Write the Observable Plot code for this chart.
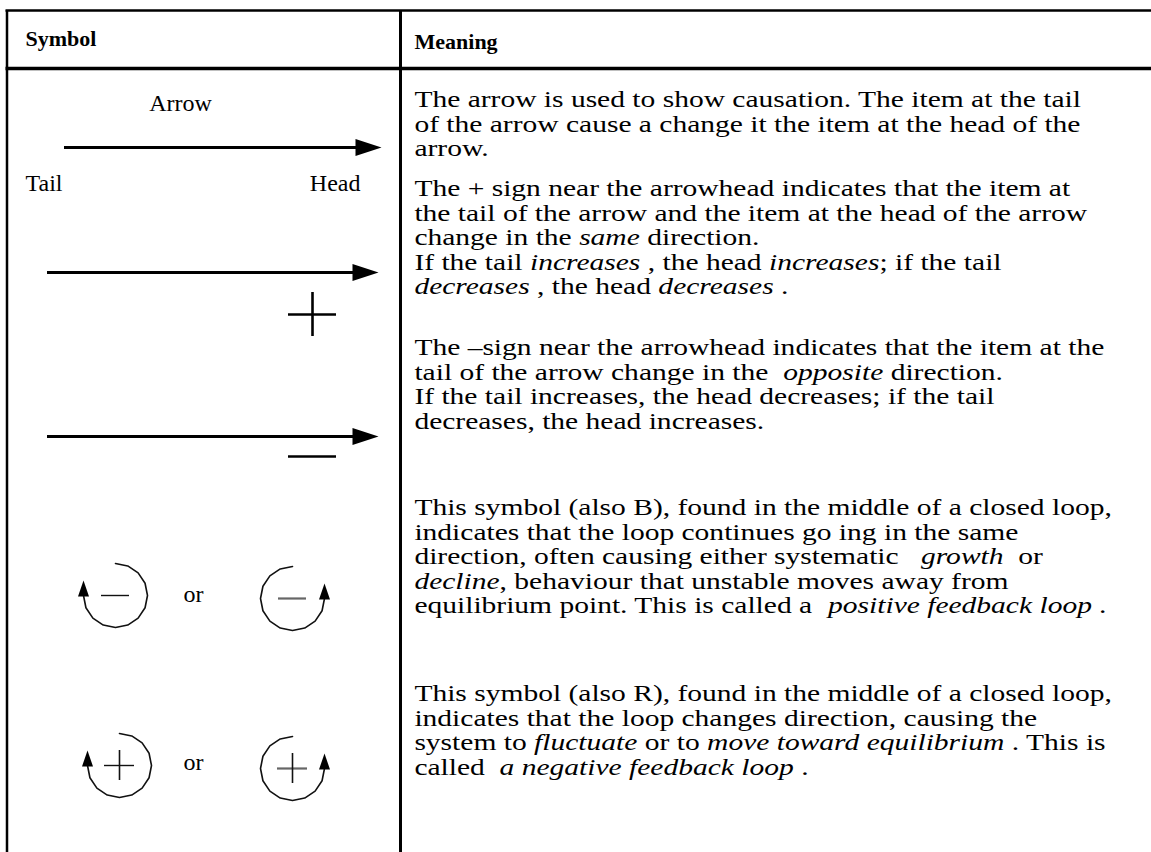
<!DOCTYPE html>
<html>
<head>
<meta charset="utf-8">
<script src="https://cdn.jsdelivr.net/npm/d3@7"></script>
<script src="https://cdn.jsdelivr.net/npm/@observablehq/plot@0.6"></script>
<style>
  html, body { margin: 0; padding: 0; background: #fff; }
</style>
</head>
<body>
<div id="chart"></div>
<script>
// ---------------- data ----------------
const headers = ["Symbol", "Meaning"];
const arrowLabels = ["Arrow", "Tail", "Head"];
const arrowSigns = ["", "+", "−"];      // sign drawn under each of the three arrows
const loopSigns = ["−", "+"];           // sign inside the loops of rows 4 and 5
const loopJoiner = "or";

// each paragraph = list of lines, each line = list of [text, italic]
const meaning = [
  [
    [["The arrow is used to show causation. The item at the tail", 0]],
    [["of the arrow cause a change it the item at the head of the", 0]],
    [["arrow.", 0]]
  ],
  [
    [["The + sign near the arrowhead indicates that the item at", 0]],
    [["the tail of the arrow and the item at the head of the arrow", 0]],
    [["change in the ", 0], ["same", 1], [" direction.", 0]],
    [["If the tail ", 0], ["increases", 1], [" , the head ", 0], ["increases", 1], ["; if the tail", 0]],
    [["decreases", 1], [" , the head ", 0], ["decreases", 1], [" .", 0]]
  ],
  [
    [["The –sign near the arrowhead indicates that the item at the", 0]],
    [["tail of the arrow change in the  ", 0], ["opposite", 1], [" direction.", 0]],
    [["If the tail increases, the head decreases; if the tail", 0]],
    [["decreases, the head increases.", 0]]
  ],
  [
    [["This symbol (also B), found in the middle of a closed loop,", 0]],
    [["indicates that the loop continues go ing in the same", 0]],
    [["direction, often causing either systematic   ", 0], ["growth", 1], ["  or", 0]],
    [["decline", 1], [", behaviour that unstable moves away from", 0]],
    [["equilibrium point. This is called a  ", 0], ["positive feedback loop", 1], [" .", 0]]
  ],
  [
    [["This symbol (also R), found in the middle of a closed loop,", 0]],
    [["indicates that the loop changes direction, causing the", 0]],
    [["system to ", 0], ["fluctuate", 1], [" or to ", 0], ["move toward equilibrium", 1], [" . This is", 0]],
    [["called  ", 0], ["a negative feedback loop", 1], [" .", 0]]
  ]
];

// ---------------- layout ----------------
const L = {
  W: 1151, H: 852,
  frameTop: 10, headBottom: 68, left: 6.5, divider: 400,
  headerY: [38, 41], headerX: [25, 414], headerSize: 22,
  textX: 414, fontSize: 24, lineH: 24.5, textStretch: 1.23,
  rowY: [99, 188, 347, 507, 693],
  arrowLabelPos: [[180, 103, "middle"], [25, 183, "start"], [360, 183, "end"]],
  arrows: [{y: 147, x1: 64, x2: 381}, {y: 272, x1: 47, x2: 378}, {y: 436, x1: 47, x2: 378}],
  signX: 312, signDy: [0, 42, 20], signHalfW: 24, signHalfH: 22,
  loops: [
    {l: [115, 595], r: [292, 598], signHalf: 14, orY: 594},
    {l: [119, 765], r: [292, 768], signHalf: 15, orY: 762}
  ],
  loopR: 32, orX: 193
};
const FONT = '"Liberation Serif", "Times New Roman", serif';

// ---------------- helpers ----------------
const ctx = document.createElement("canvas").getContext("2d");
function measure(t, italic, size = L.fontSize, bold = false) {
  ctx.font = `${italic ? "italic " : ""}${bold ? "bold " : ""}${size}px ${FONT}`;
  return ctx.measureText(t).width;
}

// text segments for the Meaning column (horizontally stretched like the source scan)
const segs = [];
meaning.forEach((para, r) => para.forEach((line, i) => {
  let x = L.textX;
  const y = L.rowY[r] + i * L.lineH;
  for (const [t, it] of line) {
    const lead = t.match(/^\s*/)[0];
    const trimmed = t.trim();
    if (trimmed) segs.push({x: x + measure(lead, it) * L.textStretch, y, t: trimmed, italic: !!it});
    x += measure(t, it) * L.textStretch;
  }
}));

const headerRows = headers.map((t, i) => ({t, x: L.headerX[i], y: L.headerY[i]}));
const labelRows = arrowLabels.map((t, i) => ({t, x: L.arrowLabelPos[i][0], y: L.arrowLabelPos[i][1], anchor: L.arrowLabelPos[i][2]}));

// arrow shafts & heads
const shafts = L.arrows.map(a => ({x1: a.x1, x2: a.x2 - 20, y: a.y}));
const bigHeads = L.arrows.map(a => ({x: a.x2, y: a.y}));

// signs under arrows (as rules)
const signH = [], signV = [];
arrowSigns.forEach((s, i) => {
  if (!s) return;
  const cy = L.arrows[i].y + L.signDy[i];
  signH.push({x1: L.signX - L.signHalfW, x2: L.signX + L.signHalfW, y: cy});
  if (s === "+") signV.push({x: L.signX, y1: cy - L.signHalfH, y2: cy + L.signHalfH});
});

// loops: polygonal arcs (16-gon like the source drawing)
const loopPts = [], loopHeads = [], loopH = [], loopV = [], orRows = [];
L.loops.forEach((lp, k) => {
  const sign = loopSigns[k];
  [["l", 1], ["r", -1]].forEach(([side, dir]) => {
    const [cx, cy] = lp[side];
    const id = `${k}${side}`;
    for (let a = 0; a <= 270.01; a += 22.5) {
      const th = (dir * a) * Math.PI / 180;
      loopPts.push({id, x: cx + L.loopR * Math.sin(th), y: cy - L.loopR * Math.cos(th)});
    }
    loopHeads.push({x: cx - dir * L.loopR, y: cy - 15});
    const col = side === "l" ? "#111" : "#666";
    loopH.push({x1: cx - lp.signHalf, x2: cx + lp.signHalf, y: cy, col, w: side === "l" ? 1.4 : 2.2});
    if (sign === "+") loopV.push({x: cx, y1: cy - lp.signHalf, y2: cy + lp.signHalf});
  });
  orRows.push({t: loopJoiner, x: L.orX, y: lp.orY});
});

// custom filled triangle (tip at origin, pointing up before rotation)
const tri = (len, hw) => ({
  draw(c) { c.moveTo(0, 0); c.lineTo(hw, len); c.lineTo(-hw, len); c.closePath(); }
});

const chart = Plot.plot({
  width: L.W, height: L.H,
  margin: 0,
  x: {domain: [0, L.W], range: [0, L.W], axis: null},
  y: {domain: [0, L.H], range: [0, L.H], axis: null},
  style: {background: "#fff", fontFamily: FONT, color: "#000"},
  marks: [
    // frame
    Plot.ruleY([L.frameTop], {x1: L.left - 1, x2: L.W, stroke: "#000", strokeWidth: 2.5}),
    Plot.ruleY([L.headBottom], {x1: L.left - 1, x2: L.W, stroke: "#000", strokeWidth: 3.5}),
    Plot.ruleX([L.left], {y1: L.frameTop, y2: L.H, stroke: "#000", strokeWidth: 2.5}),
    Plot.ruleX([L.divider], {y1: L.frameTop, y2: L.H, stroke: "#000", strokeWidth: 3}),
    // headers
    Plot.text(headerRows, {x: "x", y: "y", text: "t", textAnchor: "start", fontWeight: "bold", fontSize: L.headerSize, fill: "#000"}),
    // meaning text
    Plot.text(segs.filter(d => !d.italic), {x: "x", y: "y", text: "t", textAnchor: "start", fontSize: L.fontSize, fill: "#000"}),
    Plot.text(segs.filter(d => d.italic), {x: "x", y: "y", text: "t", textAnchor: "start", fontSize: L.fontSize, fontStyle: "italic", fill: "#000"}),
    // arrow row labels
    Plot.text(labelRows.filter(d => d.anchor === "middle"), {x: "x", y: "y", text: "t", textAnchor: "middle", fontSize: L.fontSize, fill: "#000"}),
    Plot.text(labelRows.filter(d => d.anchor === "start"), {x: "x", y: "y", text: "t", textAnchor: "start", fontSize: L.fontSize, fill: "#000"}),
    Plot.text(labelRows.filter(d => d.anchor === "end"), {x: "x", y: "y", text: "t", textAnchor: "end", fontSize: L.fontSize, fill: "#000"}),
    // arrows
    Plot.ruleY(shafts, {x1: "x1", x2: "x2", y: "y", stroke: "#000", strokeWidth: 3}),
    Plot.dot(bigHeads, {x: "x", y: "y", symbol: tri(26, 8.5), r: 10, rotate: 90, fill: "#000", stroke: "none"}),
    Plot.ruleY(signH, {x1: "x1", x2: "x2", y: "y", stroke: "#000", strokeWidth: 2.6}),
    Plot.ruleX(signV, {x: "x", y1: "y1", y2: "y2", stroke: "#000", strokeWidth: 2.6}),
    // loops
    Plot.line(loopPts, {x: "x", y: "y", z: "id", stroke: "#111", strokeWidth: 1.6, curve: "linear"}),
    Plot.dot(loopHeads, {x: "x", y: "y", symbol: tri(16, 5.5), r: 8, fill: "#000", stroke: "none"}),
    Plot.ruleY(loopH, {x1: "x1", x2: "x2", y: "y", stroke: "col", strokeWidth: "w"}),
    Plot.ruleX(loopV, {x: "x", y1: "y1", y2: "y2", stroke: "#111", strokeWidth: 1.6}),
    Plot.text(orRows, {x: "x", y: "y", text: "t", textAnchor: "middle", fontSize: L.fontSize, fill: "#000"})
  ]
});
document.getElementById("chart").appendChild(chart);

// stretch the Meaning-column text horizontally (source scan is wider than the font)
const svgLeft = chart.getBoundingClientRect().left;
const meaningSet = new Set(segs.map(d => d.t));
chart.querySelectorAll("text").forEach(el => {
  if (!meaningSet.has(el.textContent)) return;
  const r = el.getBoundingClientRect();
  const x0 = r.left - svgLeft;
  if (x0 < L.divider) return;
  const tr = el.getAttribute("transform") || "";
  el.setAttribute("transform", `translate(${x0},0) scale(${L.textStretch},1) translate(${-x0},0) ${tr}`);
});
</script>
</body>
</html>
